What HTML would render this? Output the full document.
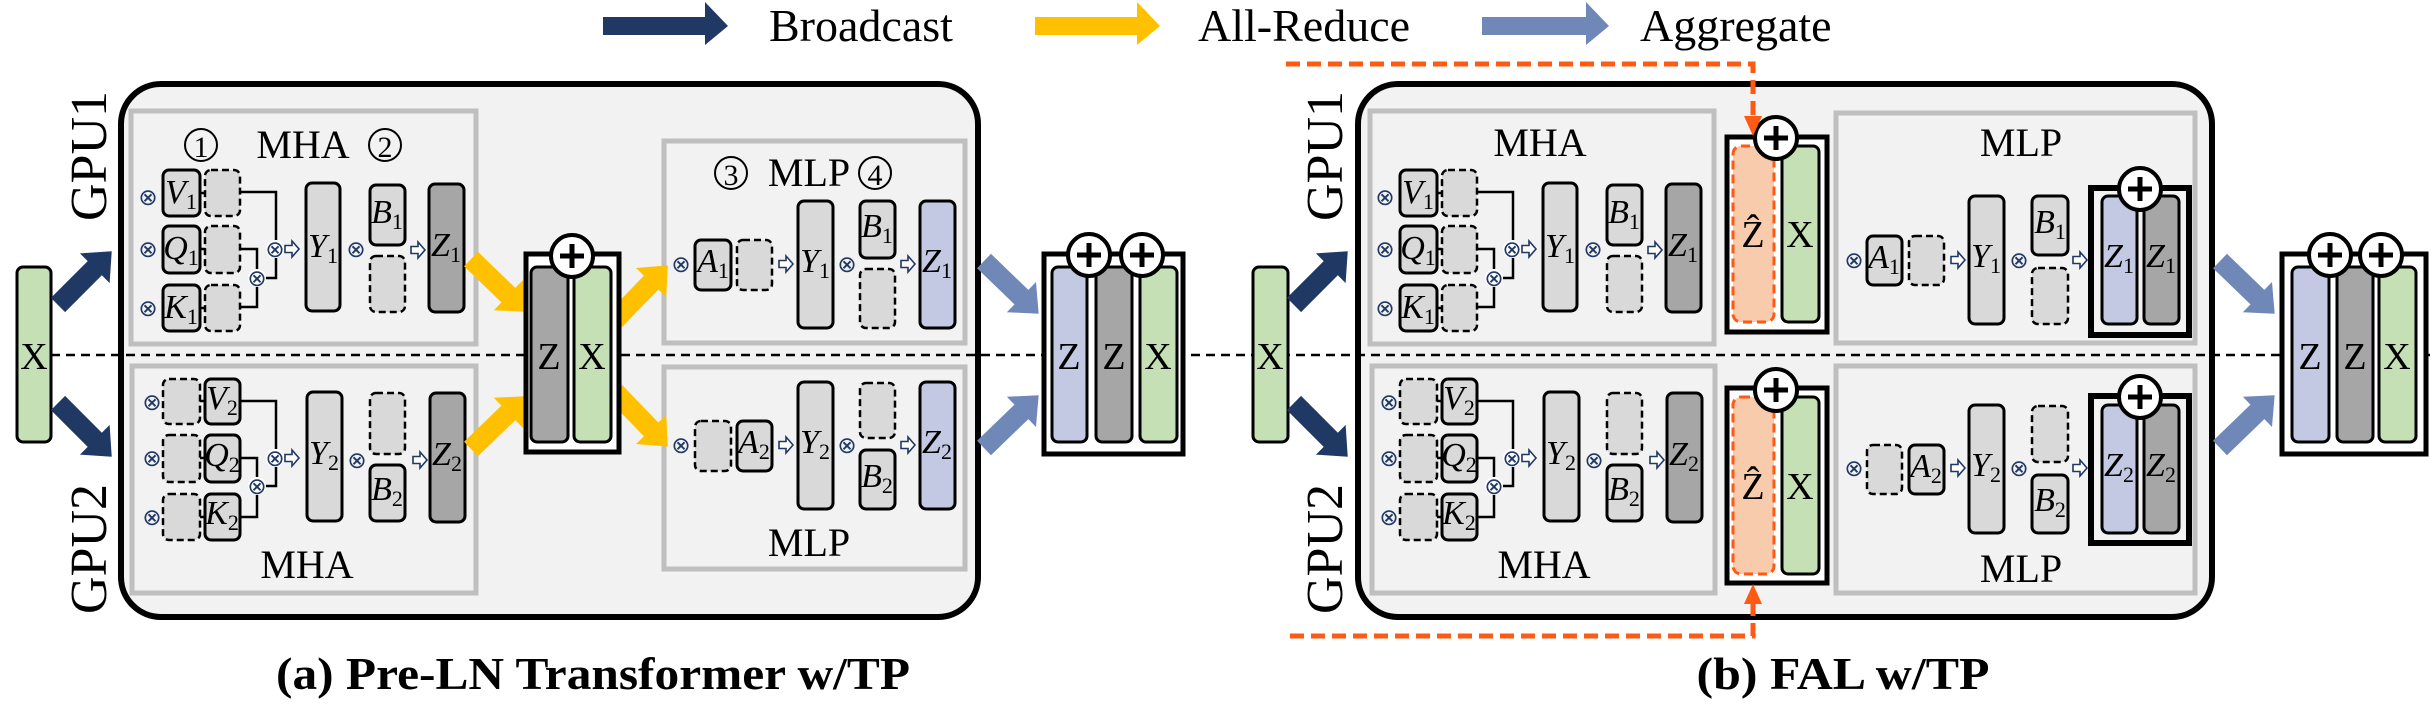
<!DOCTYPE html>
<html><head><meta charset="utf-8"><style>
html,body{margin:0;padding:0;background:#fff}
svg{display:block}
text{font-family:"Liberation Serif",serif}
.s{fill:#d9d9d9;stroke:#000;stroke-width:3}
.d{fill:#d9d9d9;stroke:#000;stroke-width:2.5;stroke-dasharray:7 4}
.dk{fill:#a6a6a6;stroke:#000;stroke-width:3}
.lv{fill:#c3c9e3;stroke:#000;stroke-width:3}
.gr{fill:#c5e0b4;stroke:#000;stroke-width:3}
.v{font-style:italic;font-size:34px;text-anchor:middle}
.v tspan{font-size:22px;font-style:normal}
.o{font-family:"DejaVu Sans",sans-serif;font-size:23px;fill:#1f3864;text-anchor:middle}
.ln{fill:none;stroke:#000;stroke-width:2.5}
.ha{fill:#fff;stroke:#1f3864;stroke-width:1.6}
.lb{font-size:40px;text-anchor:middle}
.big{font-size:38px;text-anchor:middle}
.gb{fill:#f2f2f2;stroke:#bfbfbf;stroke-width:5}
</style></head><body>
<svg width="2436" height="704" viewBox="0 0 2436 704" xmlns="http://www.w3.org/2000/svg">
<defs>
<g id="ar"><polygon class="ha" points="0,-3.5 7,-3.5 7,-8 14,0 7,8 7,3.5 0,3.5"/></g>
<g id="pl"><circle r="21" fill="#fff" stroke="#000" stroke-width="4"/><path d="M-12,0H12M0,-12V12" stroke="#000" stroke-width="5"/></g>
<g id="bA"><polygon points="0,-10 52,-10 52,-21 76,0 52,21 52,10 0,10"/></g>
</defs>

<polygon fill="#203864" points="603,17 705,17 705,2 728,26 705,45 705,35 603,35"/>
<text x="769" y="41" font-size="46">Broadcast</text>
<polygon fill="#ffc000" points="1035,17 1137,17 1137,2 1160,26 1137,45 1137,35 1035,35"/>
<text x="1198" y="41" font-size="46">All-Reduce</text>
<polygon fill="#7088b8" points="1482,17 1586,17 1586,2 1609,26 1586,45 1586,35 1482,35"/>
<text x="1640" y="41" font-size="46">Aggregate</text>

<rect x="121" y="84" width="857" height="533" rx="40" fill="#f2f2f2" stroke="#000" stroke-width="6"/>
<rect x="1358" y="84" width="854" height="533" rx="40" fill="#f2f2f2" stroke="#000" stroke-width="6"/>

<line x1="51" y1="355" x2="2430" y2="355" stroke="#000" stroke-width="2.5" stroke-dasharray="9 6"/>

<text transform="translate(106,156) rotate(-90)" font-size="52" text-anchor="middle">GPU1</text>
<text transform="translate(106,549) rotate(-90)" font-size="52" text-anchor="middle">GPU2</text>
<text transform="translate(1342,156) rotate(-90)" font-size="52" text-anchor="middle">GPU1</text>
<text transform="translate(1342,549) rotate(-90)" font-size="52" text-anchor="middle">GPU2</text>

<rect x="17" y="267" width="34" height="175" rx="6" class="gr"/><text x="34" y="369" class="big">X</text>
<rect x="1253" y="267" width="35" height="175" rx="6" class="gr"/><text x="1270" y="369" class="big">X</text>

<use href="#bA" fill="#203864" transform="translate(58,305) rotate(-45)"/>
<use href="#bA" fill="#203864" transform="translate(58,403) rotate(45)"/>
<use href="#bA" fill="#203864" transform="translate(1294,305) rotate(-45)"/>
<use href="#bA" fill="#203864" transform="translate(1294,403) rotate(45)"/>

<rect x="131" y="111" width="345" height="233" class="gb"/>
<rect x="132" y="366" width="344" height="227" class="gb"/>
<rect x="664" y="141" width="301" height="202" class="gb"/>
<rect x="664" y="367" width="301" height="202" class="gb"/>

<circle cx="201" cy="145" r="16" fill="none" stroke="#000" stroke-width="2"/><text x="201" y="157" font-size="30" text-anchor="middle">1</text>
<text x="303" y="158" class="lb">MHA</text>
<circle cx="385" cy="145" r="16" fill="none" stroke="#000" stroke-width="2"/><text x="385" y="157" font-size="30" text-anchor="middle">2</text>
<text x="307" y="578" class="lb">MHA</text>

<g>
<text x="148" y="205" class="o">⊗</text><text x="148" y="257" class="o">⊗</text><text x="148" y="316" class="o">⊗</text>
<line x1="200" y1="193" x2="205" y2="193" class="ln"/><line x1="200" y1="249" x2="205" y2="249" class="ln"/><line x1="200" y1="308" x2="205" y2="308" class="ln"/>
<rect x="163" y="170" width="37" height="46" rx="6" class="s"/><text x="181" y="203" class="v">V<tspan dy="6">1</tspan></text>
<rect x="205" y="170" width="35" height="46" rx="6" class="d"/>
<rect x="163" y="226" width="37" height="47" rx="6" class="s"/><text x="181" y="259" class="v">Q<tspan dy="6">1</tspan></text>
<rect x="205" y="226" width="35" height="47" rx="6" class="d"/>
<rect x="163" y="285" width="37" height="46" rx="6" class="s"/><text x="181" y="318" class="v">K<tspan dy="6">1</tspan></text>
<rect x="205" y="285" width="35" height="46" rx="6" class="d"/>
<polyline class="ln" points="240,192 276,192 276,240"/>
<polyline class="ln" points="240,249 257,249 257,270"/>
<polyline class="ln" points="240,307 257,307 257,286"/>
<polyline class="ln" points="264,278 276,278 276,258"/>
<circle cx="275" cy="249" r="9" fill="#fff"/><text x="275" y="257" class="o">⊗</text>
<circle cx="257" cy="278" r="9" fill="#fff"/><text x="257" y="286" class="o">⊗</text>
<use href="#ar" transform="translate(285,249)"/>
<rect x="306" y="183" width="34" height="128" rx="6" class="s"/><text x="323" y="257" class="v">Y<tspan dy="6">1</tspan></text>
<text x="356" y="257" class="o">⊗</text>
<rect x="370" y="185" width="35" height="60" rx="6" class="s"/><text x="387" y="223" class="v">B<tspan dy="6">1</tspan></text>
<rect x="370" y="256" width="35" height="56" rx="6" class="d"/>
<use href="#ar" transform="translate(411,250)"/>
<rect x="429" y="184" width="35" height="128" rx="6" class="dk"/><text x="446" y="256" class="v">Z<tspan dy="6">1</tspan></text>
</g>

<g>
<text x="152" y="410" class="o">⊗</text><text x="152" y="466" class="o">⊗</text><text x="152" y="525" class="o">⊗</text>
<line x1="200" y1="401" x2="205" y2="401" class="ln"/><line x1="200" y1="458" x2="205" y2="458" class="ln"/><line x1="200" y1="517" x2="205" y2="517" class="ln"/>
<rect x="163" y="379" width="37" height="45" rx="6" class="d"/>
<rect x="205" y="379" width="35" height="45" rx="6" class="s"/><text x="222" y="409" class="v">V<tspan dy="6">2</tspan></text>
<rect x="163" y="435" width="37" height="47" rx="6" class="d"/>
<rect x="205" y="435" width="35" height="47" rx="6" class="s"/><text x="222" y="466" class="v">Q<tspan dy="6">2</tspan></text>
<rect x="163" y="494" width="37" height="46" rx="6" class="d"/>
<rect x="205" y="494" width="35" height="46" rx="6" class="s"/><text x="222" y="524" class="v">K<tspan dy="6">2</tspan></text>
<polyline class="ln" points="240,401 276,401 276,449"/>
<polyline class="ln" points="240,458 257,458 257,477"/>
<polyline class="ln" points="240,517 257,517 257,494"/>
<polyline class="ln" points="264,486 276,486 276,467"/>
<circle cx="275" cy="458" r="9" fill="#fff"/><text x="275" y="466" class="o">⊗</text>
<circle cx="257" cy="486" r="9" fill="#fff"/><text x="257" y="494" class="o">⊗</text>
<use href="#ar" transform="translate(285,458)"/>
<rect x="307" y="392" width="35" height="129" rx="6" class="s"/><text x="324" y="464" class="v">Y<tspan dy="6">2</tspan></text>
<text x="357" y="468" class="o">⊗</text>
<rect x="370" y="393" width="35" height="61" rx="6" class="d"/>
<rect x="370" y="465" width="35" height="56" rx="6" class="s"/><text x="387" y="500" class="v">B<tspan dy="6">2</tspan></text>
<use href="#ar" transform="translate(413,460)"/>
<rect x="430" y="393" width="35" height="129" rx="6" class="dk"/><text x="447" y="465" class="v">Z<tspan dy="6">2</tspan></text>
</g>

<circle cx="731" cy="173" r="16" fill="none" stroke="#000" stroke-width="2"/><text x="731" y="185" font-size="30" text-anchor="middle">3</text>
<text x="809" y="186" class="lb">MLP</text>
<circle cx="875" cy="173" r="16" fill="none" stroke="#000" stroke-width="2"/><text x="875" y="185" font-size="30" text-anchor="middle">4</text>
<text x="681" y="272" class="o">⊗</text>
<rect x="695" y="240" width="36" height="50" rx="6" class="s"/><text x="713" y="272" class="v">A<tspan dy="6">1</tspan></text>
<rect x="737" y="240" width="35" height="50" rx="6" class="d"/>
<use href="#ar" transform="translate(779,264)"/>
<rect x="798" y="201" width="35" height="127" rx="6" class="s"/><text x="815" y="272" class="v">Y<tspan dy="6">1</tspan></text>
<text x="847" y="272" class="o">⊗</text>
<rect x="860" y="201" width="35" height="57" rx="6" class="s"/><text x="877" y="237" class="v">B<tspan dy="6">1</tspan></text>
<rect x="860" y="269" width="35" height="59" rx="6" class="d"/>
<use href="#ar" transform="translate(901,264)"/>
<rect x="920" y="201" width="35" height="127" rx="6" class="lv"/><text x="937" y="272" class="v">Z<tspan dy="6">1</tspan></text>

<text x="681" y="453" class="o">⊗</text>
<rect x="695" y="421" width="36" height="50" rx="6" class="d"/>
<rect x="737" y="421" width="35" height="50" rx="6" class="s"/><text x="754" y="453" class="v">A<tspan dy="6">2</tspan></text>
<use href="#ar" transform="translate(779,445)"/>
<rect x="798" y="382" width="35" height="127" rx="6" class="s"/><text x="815" y="453" class="v">Y<tspan dy="6">2</tspan></text>
<text x="847" y="453" class="o">⊗</text>
<rect x="860" y="383" width="35" height="55" rx="6" class="d"/>
<rect x="860" y="450" width="35" height="59" rx="6" class="s"/><text x="877" y="487" class="v">B<tspan dy="6">2</tspan></text>
<use href="#ar" transform="translate(901,445)"/>
<rect x="920" y="382" width="35" height="127" rx="6" class="lv"/><text x="937" y="453" class="v">Z<tspan dy="6">2</tspan></text>
<text x="809" y="556" class="lb">MLP</text>

<use href="#bA" fill="#ffc000" transform="translate(471,259) rotate(44)"/>
<use href="#bA" fill="#ffc000" transform="translate(471,449) rotate(-44)"/>
<use href="#bA" fill="#ffc000" transform="translate(615,320) rotate(-46)"/>
<use href="#bA" fill="#ffc000" transform="translate(615,392) rotate(46)"/>

<rect x="526" y="254" width="93" height="198" fill="#fff" stroke="#000" stroke-width="5"/>
<rect x="531" y="267" width="37" height="175" rx="6" class="dk"/><text x="549" y="369" class="big">Z</text>
<rect x="574" y="267" width="37" height="175" rx="6" class="gr"/><text x="592" y="369" class="big">X</text>
<use href="#pl" transform="translate(572,256)"/>

<use href="#bA" fill="#7088b8" transform="translate(984,261) rotate(44)"/>
<use href="#bA" fill="#7088b8" transform="translate(984,448) rotate(-44)"/>

<rect x="1044" y="254" width="139" height="200" fill="#fff" stroke="#000" stroke-width="5"/>
<rect x="1052" y="267" width="35" height="175" rx="6" class="lv"/><text x="1069" y="369" class="big">Z</text>
<rect x="1096" y="267" width="36" height="175" rx="6" class="dk"/><text x="1114" y="369" class="big">Z</text>
<rect x="1140" y="267" width="37" height="175" rx="6" class="gr"/><text x="1158" y="369" class="big">X</text>
<use href="#pl" transform="translate(1089,255)"/>
<use href="#pl" transform="translate(1142,255)"/>

<text x="593" y="689" font-size="46" font-weight="bold" text-anchor="middle" textLength="634" lengthAdjust="spacingAndGlyphs">(a) Pre-LN Transformer w/TP</text>

<rect x="1370" y="111" width="344" height="233" class="gb"/>
<rect x="1372" y="366" width="343" height="227" class="gb"/>
<rect x="1836" y="113" width="359" height="230" class="gb"/>
<rect x="1836" y="366" width="359" height="227" class="gb"/>
<text x="1540" y="156" class="lb">MHA</text>
<text x="1544" y="578" class="lb">MHA</text>
<g transform="translate(1237,0)">
<text x="148" y="205" class="o">⊗</text><text x="148" y="257" class="o">⊗</text><text x="148" y="316" class="o">⊗</text>
<line x1="200" y1="193" x2="205" y2="193" class="ln"/><line x1="200" y1="249" x2="205" y2="249" class="ln"/><line x1="200" y1="308" x2="205" y2="308" class="ln"/>
<rect x="163" y="170" width="37" height="46" rx="6" class="s"/><text x="181" y="203" class="v">V<tspan dy="6">1</tspan></text>
<rect x="205" y="170" width="35" height="46" rx="6" class="d"/>
<rect x="163" y="226" width="37" height="47" rx="6" class="s"/><text x="181" y="259" class="v">Q<tspan dy="6">1</tspan></text>
<rect x="205" y="226" width="35" height="47" rx="6" class="d"/>
<rect x="163" y="285" width="37" height="46" rx="6" class="s"/><text x="181" y="318" class="v">K<tspan dy="6">1</tspan></text>
<rect x="205" y="285" width="35" height="46" rx="6" class="d"/>
<polyline class="ln" points="240,192 276,192 276,240"/>
<polyline class="ln" points="240,249 257,249 257,270"/>
<polyline class="ln" points="240,307 257,307 257,286"/>
<polyline class="ln" points="264,278 276,278 276,258"/>
<circle cx="275" cy="249" r="9" fill="#fff"/><text x="275" y="257" class="o">⊗</text>
<circle cx="257" cy="278" r="9" fill="#fff"/><text x="257" y="286" class="o">⊗</text>
<use href="#ar" transform="translate(285,249)"/>
<rect x="306" y="183" width="34" height="128" rx="6" class="s"/><text x="323" y="257" class="v">Y<tspan dy="6">1</tspan></text>
<text x="356" y="257" class="o">⊗</text>
<rect x="370" y="185" width="35" height="60" rx="6" class="s"/><text x="387" y="223" class="v">B<tspan dy="6">1</tspan></text>
<rect x="370" y="256" width="35" height="56" rx="6" class="d"/>
<use href="#ar" transform="translate(411,250)"/>
<rect x="429" y="184" width="35" height="128" rx="6" class="dk"/><text x="446" y="256" class="v">Z<tspan dy="6">1</tspan></text>
</g>
<g transform="translate(1237,0)">
<text x="152" y="410" class="o">⊗</text><text x="152" y="466" class="o">⊗</text><text x="152" y="525" class="o">⊗</text>
<line x1="200" y1="401" x2="205" y2="401" class="ln"/><line x1="200" y1="458" x2="205" y2="458" class="ln"/><line x1="200" y1="517" x2="205" y2="517" class="ln"/>
<rect x="163" y="379" width="37" height="45" rx="6" class="d"/>
<rect x="205" y="379" width="35" height="45" rx="6" class="s"/><text x="222" y="409" class="v">V<tspan dy="6">2</tspan></text>
<rect x="163" y="435" width="37" height="47" rx="6" class="d"/>
<rect x="205" y="435" width="35" height="47" rx="6" class="s"/><text x="222" y="466" class="v">Q<tspan dy="6">2</tspan></text>
<rect x="163" y="494" width="37" height="46" rx="6" class="d"/>
<rect x="205" y="494" width="35" height="46" rx="6" class="s"/><text x="222" y="524" class="v">K<tspan dy="6">2</tspan></text>
<polyline class="ln" points="240,401 276,401 276,449"/>
<polyline class="ln" points="240,458 257,458 257,477"/>
<polyline class="ln" points="240,517 257,517 257,494"/>
<polyline class="ln" points="264,486 276,486 276,467"/>
<circle cx="275" cy="458" r="9" fill="#fff"/><text x="275" y="466" class="o">⊗</text>
<circle cx="257" cy="486" r="9" fill="#fff"/><text x="257" y="494" class="o">⊗</text>
<use href="#ar" transform="translate(285,458)"/>
<rect x="307" y="392" width="35" height="129" rx="6" class="s"/><text x="324" y="464" class="v">Y<tspan dy="6">2</tspan></text>
<text x="357" y="468" class="o">⊗</text>
<rect x="370" y="393" width="35" height="61" rx="6" class="d"/>
<rect x="370" y="465" width="35" height="56" rx="6" class="s"/><text x="387" y="500" class="v">B<tspan dy="6">2</tspan></text>
<use href="#ar" transform="translate(413,460)"/>
<rect x="430" y="393" width="35" height="129" rx="6" class="dk"/><text x="447" y="465" class="v">Z<tspan dy="6">2</tspan></text>
</g>

<rect x="1727" y="137" width="100" height="195" fill="#fff" stroke="#000" stroke-width="5"/>
<rect x="1733" y="146" width="41" height="176" rx="8" fill="#f8cbad" stroke="#ff5a14" stroke-width="3" stroke-dasharray="9 5"/>
<text x="1753" y="247" class="big">Ẑ</text>
<rect x="1782" y="146" width="37" height="176" rx="6" class="gr"/><text x="1800" y="247" class="big">X</text>
<use href="#pl" transform="translate(1776,138)"/>

<rect x="1727" y="388" width="100" height="195" fill="#fff" stroke="#000" stroke-width="5"/>
<rect x="1733" y="397" width="41" height="177" rx="8" fill="#f8cbad" stroke="#ff5a14" stroke-width="3" stroke-dasharray="9 5"/>
<text x="1753" y="499" class="big">Ẑ</text>
<rect x="1782" y="397" width="37" height="177" rx="6" class="gr"/><text x="1800" y="499" class="big">X</text>
<use href="#pl" transform="translate(1776,390)"/>

<polyline points="1286,64 1753,64 1753,118" fill="none" stroke="#ff5a14" stroke-width="5" stroke-dasharray="14 7"/>
<polygon points="1744,116 1762,116 1753,136" fill="#ff5a14"/>
<polyline points="1290,636 1753,636 1753,602" fill="none" stroke="#ff5a14" stroke-width="5" stroke-dasharray="14 7"/>
<polygon points="1744,604 1762,604 1753,584" fill="#ff5a14"/>

<text x="2021" y="156" class="lb">MLP</text>
<text x="1854" y="268" class="o">⊗</text>
<rect x="1867" y="236" width="35" height="49" rx="6" class="s"/><text x="1884" y="268" class="v">A<tspan dy="6">1</tspan></text>
<rect x="1909" y="236" width="35" height="49" rx="6" class="d"/>
<use href="#ar" transform="translate(1951,260)"/>
<rect x="1969" y="196" width="35" height="128" rx="6" class="s"/><text x="1986" y="267" class="v">Y<tspan dy="6">1</tspan></text>
<text x="2019" y="268" class="o">⊗</text>
<rect x="2032" y="196" width="36" height="59" rx="6" class="s"/><text x="2050" y="233" class="v">B<tspan dy="6">1</tspan></text>
<rect x="2032" y="268" width="36" height="56" rx="6" class="d"/>
<use href="#ar" transform="translate(2073,260)"/>
<rect x="2091" y="188" width="98" height="147" fill="none" stroke="#000" stroke-width="6"/>
<rect x="2102" y="196" width="35" height="128" rx="6" class="lv"/><text x="2119" y="267" class="v">Z<tspan dy="6">1</tspan></text>
<rect x="2144" y="196" width="35" height="128" rx="6" class="dk"/><text x="2161" y="267" class="v">Z<tspan dy="6">1</tspan></text>
<use href="#pl" transform="translate(2140,189)"/>

<text x="1854" y="476" class="o">⊗</text>
<rect x="1867" y="445" width="35" height="49" rx="6" class="d"/>
<rect x="1909" y="445" width="35" height="49" rx="6" class="s"/><text x="1926" y="477" class="v">A<tspan dy="6">2</tspan></text>
<use href="#ar" transform="translate(1951,468)"/>
<rect x="1969" y="405" width="35" height="128" rx="6" class="s"/><text x="1986" y="476" class="v">Y<tspan dy="6">2</tspan></text>
<text x="2019" y="476" class="o">⊗</text>
<rect x="2032" y="406" width="36" height="56" rx="6" class="d"/>
<rect x="2032" y="475" width="36" height="58" rx="6" class="s"/><text x="2050" y="511" class="v">B<tspan dy="6">2</tspan></text>
<use href="#ar" transform="translate(2073,468)"/>
<rect x="2091" y="396" width="98" height="147" fill="none" stroke="#000" stroke-width="6"/>
<rect x="2102" y="405" width="35" height="128" rx="6" class="lv"/><text x="2119" y="476" class="v">Z<tspan dy="6">2</tspan></text>
<rect x="2144" y="405" width="35" height="128" rx="6" class="dk"/><text x="2161" y="476" class="v">Z<tspan dy="6">2</tspan></text>
<use href="#pl" transform="translate(2140,397)"/>
<text x="2021" y="582" class="lb">MLP</text>

<use href="#bA" fill="#7088b8" transform="translate(2220,261) rotate(44)"/>
<use href="#bA" fill="#7088b8" transform="translate(2220,448) rotate(-44)"/>

<rect x="2282" y="254" width="144" height="200" fill="#fff" stroke="#000" stroke-width="5"/>
<rect x="2292" y="267" width="37" height="175" rx="6" class="lv"/><text x="2310" y="369" class="big">Z</text>
<rect x="2337" y="267" width="36" height="175" rx="6" class="dk"/><text x="2355" y="369" class="big">Z</text>
<rect x="2379" y="267" width="37" height="175" rx="6" class="gr"/><text x="2397" y="369" class="big">X</text>
<use href="#pl" transform="translate(2330,255)"/>
<use href="#pl" transform="translate(2381,255)"/>

<text x="1843" y="689" font-size="46" font-weight="bold" text-anchor="middle" textLength="293" lengthAdjust="spacingAndGlyphs">(b) FAL w/TP</text>
</svg>
</body></html>
